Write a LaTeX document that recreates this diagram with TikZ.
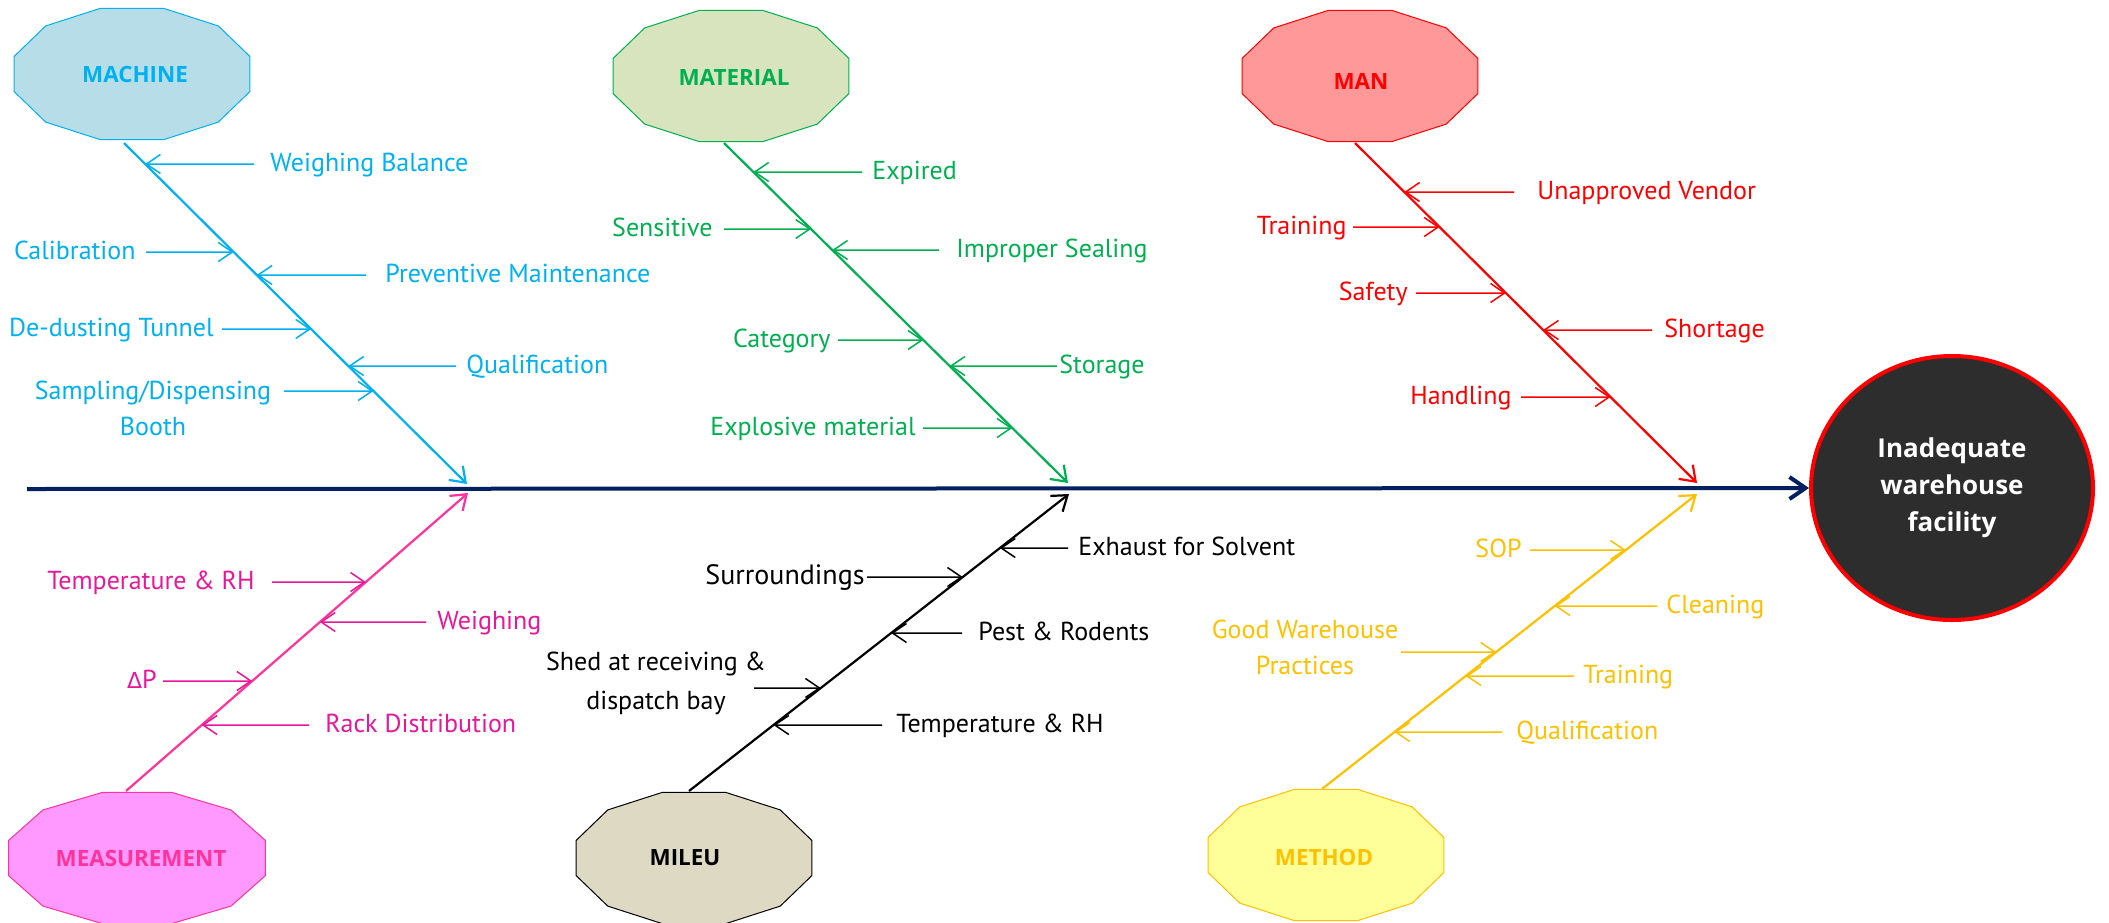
\documentclass[tikz,border=0pt]{standalone}
\usepackage{fontspec}
\setmainfont{PT Sans}
\newfontfamily\dejavu{DejaVu Sans}
\newfontfamily\headfont{Open Sans}
\usetikzlibrary{arrows.meta,calc,shapes.geometric}
\definecolor{machC}{HTML}{00B0F0}
\definecolor{machF}{HTML}{B7DEE8}
\definecolor{matC}{HTML}{00B050}
\definecolor{matF}{HTML}{D7E4BD}
\definecolor{manC}{HTML}{FF0000}
\definecolor{manF}{HTML}{FF9999}
\definecolor{meaC}{HTML}{FF3399}
\definecolor{meaT}{HTML}{E8179A}
\definecolor{meaF}{HTML}{FF99FF}
\definecolor{milF}{HTML}{DDD9C3}
\definecolor{metC}{HTML}{FFC000}
\definecolor{metF}{HTML}{FFFF99}
\definecolor{navy}{HTML}{002060}
\definecolor{effF}{HTML}{2D2D2D}
\newcommand\dodeca[3]{\draw[line width=0.5pt,#3,shift={(#1)}] (15:#2) \foreach \a in {45,75,...,345}{ -- (\a:#2)} -- cycle;}
\tikzset{
  lab/.style={font=\fontsize{13}{15}\selectfont, inner sep=0pt, text height=0.7em, text depth=0pt},
  labtwo/.style={font=\fontsize{13}{18}\selectfont, inner sep=0pt, align=center},
  cat/.style={font=\headfont\bfseries\fontsize{11.2}{13}\selectfont, inner sep=0pt},
  cz/.style={line width=0.75pt, -{Straight Barb[length=7pt,width=9.5pt]}},
  spine/.style={line width=1.1pt, -{Straight Barb[length=7pt,width=10pt]}},
}
\begin{document}
\begin{tikzpicture}[x=0.5pt,y=-0.5pt]
\useasboundingbox (0,0) rectangle (2109,922);

% ---------- effect and main line ----------
\node[ellipse, draw=manC, line width=2pt, fill=effF, minimum width=141pt, minimum height=132pt, inner sep=0pt,
      text=white, font=\headfont\bfseries\fontsize{13}{18.5}\selectfont, align=center] (effect) at (1952,488)
      {Inadequate\\warehouse\\facility};
\coordinate (mainS) at (27,489);
\draw[navy, line width=2pt, -{Straight Barb[length=8pt,width=11pt]}] (mainS) -- (effect.west);

% ---------- MACHINE ----------
\dodeca{132,74}{122 and 68}{draw=machC, fill=machF}
\node[cat, text=machC] (machine) at (135,74) {MACHINE};
\coordinate (machS) at (124,143); \coordinate (machE) at (467,484);
\draw[spine, machC] (machS) -- (machE);
\coordinate (a1) at ($(machS)!{21/341}!(machE)$);
\coordinate (a2) at ($(machS)!{109/341}!(machE)$);
\coordinate (a3) at ($(machS)!{132/341}!(machE)$);
\coordinate (a4) at ($(machS)!{186/341}!(machE)$);
\coordinate (a5) at ($(machS)!{223/341}!(machE)$);
\coordinate (a6) at ($(machS)!{248/341}!(machE)$);
\node[lab, text=machC, anchor=west] (wb) at (270,164) {Weighing Balance};
\node[lab, text=machC, anchor=east] (cal) at (136,252) {Calibration};
\node[lab, text=machC, anchor=west] (pm) at (385,275) {Preventive Maintenance};
\node[lab, text=machC, anchor=east] (dt) at (214,329) {De-dusting Tunnel};
\node[lab, text=machC, anchor=west] (qa) at (466,366) {Qualification};
\node[labtwo, text=machC] (sdb) at (153,408) {Sampling/Dispensing\\Booth};
\coordinate (a1s) at (254,164); \coordinate (a2s) at (146,252); \coordinate (a3s) at (366,275);
\coordinate (a4s) at (222,329); \coordinate (a5s) at (456,366); \coordinate (a6s) at (284,391);
\foreach \i in {1,...,6}{\draw[cz, machC] (a\i s) -- (a\i);}

% ---------- MATERIAL ----------
\dodeca{731,76}{122 and 68}{draw=matC, fill=matF}
\node[cat, text=matC] (material) at (734,77) {MATERIAL};
\coordinate (matS) at (724,143); \coordinate (matE) at (1068,483);
\draw[spine, matC] (matS) -- (matE);
\coordinate (b1) at ($(matS)!{29/340}!(matE)$);
\coordinate (b2) at ($(matS)!{86/340}!(matE)$);
\coordinate (b3) at ($(matS)!{107/340}!(matE)$);
\coordinate (b4) at ($(matS)!{197/340}!(matE)$);
\coordinate (b5) at ($(matS)!{223/340}!(matE)$);
\coordinate (b6) at ($(matS)!{285/340}!(matE)$);
\node[lab, text=matC, anchor=west] (expd) at (872,172) {Expired};
\node[lab, text=matC, anchor=east] (sens) at (713,229) {Sensitive};
\node[lab, text=matC, anchor=west] (ims) at (956,250) {Improper Sealing};
\node[lab, text=matC, anchor=east] (catg) at (831,340) {Category};
\node[lab, text=matC, anchor=west] (stor) at (1059,366) {Storage};
\node[lab, text=matC, anchor=east] (expl) at (916,428) {Explosive material};
\coordinate (b1s) at (862,172); \coordinate (b2s) at (724,229); \coordinate (b3s) at (939,250);
\coordinate (b4s) at (838,340); \coordinate (b5s) at (1057,366); \coordinate (b6s) at (923,428);
\foreach \i in {1,...,6}{\draw[cz, matC] (b\i s) -- (b\i);}

% ---------- MAN ----------
\dodeca{1360,76}{122 and 68}{draw=manC, fill=manF}
\node[cat, text=manC] (man) at (1361,81) {MAN};
\coordinate (manS) at (1355,143); \coordinate (manE) at (1697,483);
\draw[spine, manC] (manS) -- (manE);
\coordinate (c1) at ($(manS)!{49/340}!(manE)$);
\coordinate (c2) at ($(manS)!{84/340}!(manE)$);
\coordinate (c3) at ($(manS)!{150/340}!(manE)$);
\coordinate (c4) at ($(manS)!{187/340}!(manE)$);
\coordinate (c5) at ($(manS)!{254/340}!(manE)$);
\node[lab, text=manC, anchor=west] (uv) at (1537,192) {Unapproved Vendor};
\node[lab, text=manC, anchor=east] (tra) at (1347,227) {Training};
\node[lab, text=manC, anchor=east] (saf) at (1408,293) {Safety};
\node[lab, text=manC, anchor=west] (sho) at (1664,330) {Shortage};
\node[lab, text=manC, anchor=east] (han) at (1512,397) {Handling};
\coordinate (c1s) at (1514,192); \coordinate (c2s) at (1353,227); \coordinate (c3s) at (1416,293);
\coordinate (c4s) at (1652,330); \coordinate (c5s) at (1521,397);
\foreach \i in {1,...,5}{\draw[cz, manC] (c\i s) -- (c\i);}

% ---------- MEASUREMENT ----------
\dodeca{137,858}{133 and 68}{draw=meaC, fill=meaF}
\node[cat, text=meaC] (measurement) at (141,858) {MEASUREMENT};
\coordinate (meaS) at (126,791); \coordinate (meaE) at (468,493);
\draw[spine, meaC] (meaS) -- (meaE);
\coordinate (d1) at ($(meaS)!{209/298}!(meaE)$);
\coordinate (d2) at ($(meaS)!{169/298}!(meaE)$);
\coordinate (d3) at ($(meaS)!{110/298}!(meaE)$);
\coordinate (d4) at ($(meaS)!{66/298}!(meaE)$);
\node[lab, text=meaT, anchor=east] (trha) at (255,582) {Temperature \& RH};
\node[lab, text=meaT, anchor=west] (weig) at (437,622) {Weighing};
\node[lab, text=meaT, anchor=east] (dp) at (157,681) {{\dejavu\fontsize{11}{13}\selectfont Δ}P};
\node[lab, text=meaT, anchor=west] (rack) at (325,725) {Rack Distribution};
\coordinate (d1s) at (272,582); \coordinate (d2s) at (426,622); \coordinate (d3s) at (163,681);
\coordinate (d4s) at (309,725);
\foreach \i in {1,...,4}{\draw[cz, meaT] (d\i s) -- (d\i);}

% ---------- MILEU ----------
\dodeca{694,858}{122 and 68}{draw=black, fill=milF}
\node[cat] (mileu) at (685,858) {MILEU};
\coordinate (milS) at (689,791); \coordinate (milE) at (1069,494);
\draw[spine, black] (milS) -- (milE);
\coordinate (e1) at ($(milS)!{243/297}!(milE)$);
\coordinate (e2) at ($(milS)!{214/297}!(milE)$);
\coordinate (e3) at ($(milS)!{158/297}!(milE)$);
\coordinate (e4) at ($(milS)!{103/297}!(milE)$);
\coordinate (e5) at ($(milS)!{66/297}!(milE)$);
\node[lab, anchor=west] (exh) at (1078,548) {Exhaust for Solvent};
\node[lab, anchor=east, font=\fontsize{14}{16}\selectfont] (sur) at (865,577) {Surroundings};
\node[lab, anchor=west] (pest) at (978,633) {Pest \& Rodents};
\node[labtwo, font=\fontsize{13}{19.5}\selectfont] (shed) at (656,683) {Shed at receiving \&\\dispatch bay};
\node[lab, anchor=west] (trhb) at (896,725) {Temperature \& RH};
\coordinate (e1s) at (1068,548); \coordinate (e2s) at (867,577); \coordinate (e3s) at (962,633);
\coordinate (e4s) at (754,688); \coordinate (e5s) at (882,725);
\foreach \i in {1,...,5}{\draw[cz, black] (e\i s) -- (e\i);}

% ---------- METHOD ----------
\dodeca{1326,855}{122 and 68}{draw=metC, fill=metF}
\node[cat, text=metC] (method) at (1324,857) {METHOD};
\coordinate (metS) at (1322,789); \coordinate (metE) at (1697,494);
\draw[spine, metC] (metS) -- (metE);
\coordinate (f1) at ($(metS)!{239/295}!(metE)$);
\coordinate (f2) at ($(metS)!{183/295}!(metE)$);
\coordinate (f3) at ($(metS)!{137/295}!(metE)$);
\coordinate (f4) at ($(metS)!{113/295}!(metE)$);
\coordinate (f5) at ($(metS)!{57/295}!(metE)$);
\node[lab, text=metC, anchor=east] (sop) at (1522,550) {SOP};
\node[lab, text=metC, anchor=west] (clea) at (1666,606) {Cleaning};
\node[labtwo, text=metC] (gwp) at (1305,647) {Good Warehouse\\Practices};
\node[lab, text=metC, anchor=west] (trb) at (1583,676) {Training};
\node[lab, text=metC, anchor=west] (qb) at (1516,732) {Qualification};
\coordinate (f1s) at (1530,550); \coordinate (f2s) at (1657,606); \coordinate (f3s) at (1401,652);
\coordinate (f4s) at (1574,676); \coordinate (f5s) at (1502,732);
\foreach \i in {1,...,5}{\draw[cz, metC] (f\i s) -- (f\i);}
\end{tikzpicture}
\end{document}
